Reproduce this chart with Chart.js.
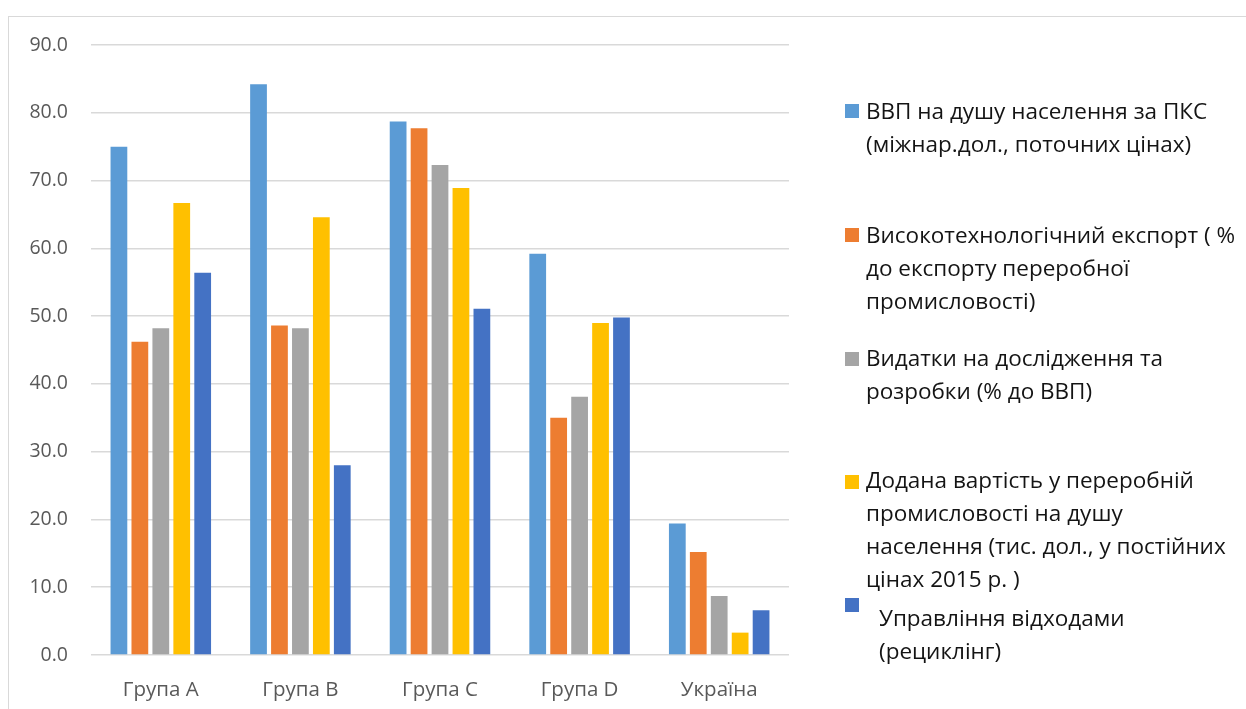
<!DOCTYPE html>
<html>
<head>
<meta charset="utf-8">
<script src="https://cdn.jsdelivr.net/npm/chart.js@4.4.1/dist/chart.umd.min.js"></script>
<style>
  html, body { margin: 0; padding: 0; background: #fff; overflow: hidden; }
  #frame { position: absolute; left: 8px; top: 16px; width: 1300px; height: 800px; border: 1.5px solid #d9d9d9; }
  #wrap { position: absolute; left: 0; top: 0; width: 1246px; height: 709px; }
</style>
</head>
<body>
<div id="frame"></div>
<div id="wrap"><canvas id="chart" width="1246" height="709"></canvas></div>
<script>
const categories = ['Група A', 'Група B', 'Група C', 'Група D', 'Україна'];

const gdpPpp = [75.0, 84.2, 78.7, 59.2, 19.4];
const hiTechExport = [46.2, 48.6, 77.7, 35.0, 15.2];
const rndSpending = [48.2, 48.2, 72.3, 38.1, 8.7];
const mfgValueAdded = [66.7, 64.6, 68.9, 49.0, 3.3];
const wasteRecycling = [56.4, 28.0, 51.1, 49.8, 6.6];

const seriesLines = [
  ['ВВП на душу населення за ПКС', '(міжнар.дол., поточних цінах)'],
  ['Високотехнологічний експорт ( %', 'до експорту переробної', 'промисловості)'],
  ['Видатки на дослідження та', 'розробки (% до ВВП)'],
  ['Додана вартість у переробній', 'промисловості на душу', 'населення (тис. дол., у постійних', 'цінах 2015 р. )'],
  ['Управління відходами', '(рециклінг)']
];

const yTicks = { min: 0, max: 90, step: 10 };

const colors = ['#5B9BD5', '#ED7D31', '#A5A5A5', '#FFC000', '#4472C4'];
const seriesData = [gdpPpp, hiTechExport, rndSpending, mfgValueAdded, wasteRecycling];

// legend on the right, drawn on the canvas
const sideLegend = {
  id: 'sideLegend',
  afterDraw(chart) {
    const ctx = chart.ctx;
    const tops = [119, 243, 366, 488, 626];
    const boxTops = [104, 228, 352, 475, 598];
    ctx.save();
    ctx.font = '22.5px "Open Sans"';
    ctx.textBaseline = 'alphabetic';
    ctx.textAlign = 'left';
    chart.data.datasets.forEach((ds, i) => {
      ctx.fillStyle = ds.backgroundColor;
      ctx.fillRect(845, boxTops[i], 14, 14);
      ctx.fillStyle = '#141414';
      const x = i === 4 ? 879 : 866;
      seriesLines[i].forEach((line, j) => {
        ctx.fillText(line, x, tops[i] + j * 33);
      });
    });
    ctx.restore();
  }
};

const ctx = document.getElementById('chart').getContext('2d');
const chart = new Chart(ctx, {
  type: 'bar',
  data: {
    labels: categories,
    datasets: seriesData.map((d, i) => ({
      label: seriesLines[i].join(' '),
      data: d,
      backgroundColor: colors[i],
      borderWidth: 0,
      categoryPercentage: 0.75,
      barPercentage: 0.8
    }))
  },
  options: {
    responsive: false,
    animation: false,
    layout: { padding: { top: 45, right: 457, bottom: 0, left: 0 } },
    plugins: {
      legend: { display: false },
      tooltip: { enabled: false }
    },
    scales: {
      x: {
        grid: { display: false },
        border: { display: false },
        ticks: { color: '#595959', font: { family: 'Open Sans', size: 20.5 }, padding: 15 },
        afterFit(scale) { scale.height = 54; }
      },
      y: {
        min: yTicks.min,
        max: yTicks.max,
        grid: { color: '#d9d9d9', lineWidth: 1.5, drawTicks: false },
        border: { display: false },
        ticks: {
          stepSize: yTicks.step,
          color: '#595959',
          font: { family: 'Open Sans', size: 19.5 },
          padding: 23,
          callback: v => v.toFixed(1)
        },
        afterFit(scale) { scale.width = 91; }
      }
    }
  },
  plugins: [sideLegend]
});
</script>
</body>
</html>
